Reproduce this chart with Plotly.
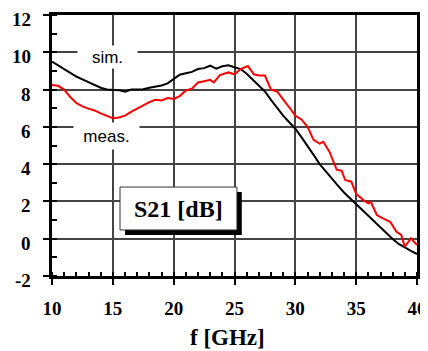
import plotly.graph_objects as go

# ---- data ----
f_sim = [10, 10.5, 11, 11.5, 12, 12.5, 13, 13.5, 14, 14.5, 15, 15.5, 16, 16.5, 17, 17.5,
         18, 18.5, 19, 19.5, 20, 20.5, 21, 21.5, 22, 22.5, 23, 23.5, 24, 24.5, 25, 25.5,
         26, 26.5, 27, 27.5, 28, 28.5, 29, 29.5, 30, 30.5, 31, 31.5, 32, 32.5, 33, 33.5,
         34, 34.5, 35, 35.5, 36, 36.5, 37, 37.5, 38, 38.5, 39, 39.5, 40]
s21_sim = [9.5, 9.3, 9.1, 8.9, 8.7, 8.55, 8.4, 8.25, 8.1, 8.0, 7.97, 7.97, 7.88, 8.0, 8.0, 8.02,
           8.1, 8.15, 8.22, 8.33, 8.55, 8.8, 8.88, 8.95, 9.1, 9.15, 9.28, 9.12, 9.25, 9.3, 9.2, 9.1,
           8.85, 8.55, 8.25, 7.9, 7.45, 7.0, 6.6, 6.25, 5.9, 5.45, 5.0, 4.5, 4.0, 3.6, 3.22, 2.85,
           2.48, 2.17, 1.85, 1.52, 1.2, 0.9, 0.58, 0.27, -0.02, -0.28, -0.48, -0.65, -0.82]

f_meas = [10, 10.5, 11, 11.5, 12, 12.5, 13, 13.5, 14, 14.5, 15, 15.5, 16, 16.5, 17, 17.5,
          18, 18.5, 19, 19.5, 20, 20.5, 21, 21.5, 22, 22.5, 23, 23.3, 23.8, 24.5, 25, 25.5,
          26.1, 26.6, 27, 27.5, 28, 28.5, 29, 29.5, 30, 30.5, 31, 31.5, 32, 32.3, 32.8, 33.2,
          33.4, 33.8, 34.1, 34.6, 35, 35.6, 36, 36.2, 36.7, 37.2, 37.8, 38.3, 38.7, 39, 39.5, 40]
s21_meas = [8.24, 8.2, 8.0, 7.6, 7.28, 7.1, 6.98, 6.88, 6.72, 6.6, 6.46, 6.5, 6.6, 6.8, 6.98, 7.15,
            7.33, 7.45, 7.42, 7.55, 7.5, 7.65, 7.95, 8.05, 8.38, 8.45, 8.52, 8.38, 8.78, 8.92, 8.82, 9.1,
            9.26, 8.82, 8.75, 8.75, 8.0, 7.9, 7.5, 7.05, 6.6, 6.4, 6.0, 5.3, 5.1, 5.2, 4.67, 4.0,
            3.7, 3.65, 3.15, 3.06, 2.4, 2.07, 1.9, 1.98, 1.27, 1.09, 0.91, 0.38, 0.2, -0.43, 0.02, -0.34]

x_tick_vals = [10, 15, 20, 25, 30, 35, 40]
x_tick_labels = ["10", "15", "20", "25", "30", "35", "40"]
y_tick_vals = [-2, 0, 2, 4, 6, 8, 10, 12]
y_tick_labels = ["-2", "0", "2", "4", "6", "8", "10", "12"]

series_names = ["sim.", "meas."]
x_title = "f [GHz]"
box_label = "S21 [dB]"

serif = "Liberation Serif"
sans = "Liberation Sans"
tick_font = dict(family=serif, size=19, color="black", weight="bold")

fig = go.Figure()
fig.add_trace(go.Scatter(x=f_sim, y=s21_sim, mode="lines", name=series_names[0],
                         line=dict(color="black", width=2)))
fig.add_trace(go.Scatter(x=f_meas, y=s21_meas, mode="lines", name=series_names[1],
                         line=dict(color="#ff0000", width=2)))

axis_common = dict(
    showline=True, linecolor="black", linewidth=2.5, mirror=True,
    showgrid=True, gridcolor="#444", gridwidth=1.5,
    zeroline=False, automargin=False, ticklabeloverflow="allow",
    ticks="outside", ticklen=6, tickwidth=2, tickcolor="black",
    tickfont=tick_font,
)

fig.update_xaxes(range=[10, 40], tickmode="array", tickvals=x_tick_vals, ticktext=x_tick_labels,
                 minor=dict(ticks="inside", dtick=1, ticklen=4, tickwidth=2, tickcolor="black",
                            showgrid=False),
                 ticklabelstandoff=7, **axis_common)
# y tick labels are drawn as annotations (they sit a little below their ticks in the original)
fig.update_yaxes(range=[-2, 12], tickmode="array", tickvals=y_tick_vals, ticktext=y_tick_labels,
                 showticklabels=False,
                 minor=dict(ticks="inside", dtick=1, ticklen=5, tickwidth=2, tickcolor="black",
                            showgrid=False),
                 **axis_common)

# label box with drop shadow
fig.add_shape(type="rect", xref="x", yref="y", x0=16.0, x1=25.6, y0=0.2, y1=2.5,
              fillcolor="black", line=dict(width=0), layer="above")
fig.add_shape(type="rect", xref="x", yref="y", x0=15.59, x1=25.2, y0=0.47, y1=2.77,
              fillcolor="white", line=dict(color="#333", width=1), layer="above")

annotations = [
    dict(x=0, y=v, xref="paper", yref="y", text=t, showarrow=False,
         xanchor="right", yanchor="middle", xshift=-19, yshift=-4.5, font=tick_font)
    for v, t in zip(y_tick_vals, y_tick_labels)
]
annotations += [
    dict(x=14.56, y=9.73, xref="x", yref="y", text=series_names[0], showarrow=False,
         font=dict(family=sans, size=17, color="black"), bgcolor="white", width=57, height=20),
    dict(x=14.45, y=5.5, xref="x", yref="y", text=series_names[1], showarrow=False,
         font=dict(family=sans, size=17, color="black"), bgcolor="white", width=63, height=24),
    dict(x=20.4, y=1.6, xref="x", yref="y", text=box_label, showarrow=False,
         font=dict(family=serif, size=24, color="black", weight="bold")),
    dict(x=0.481, y=-0.234, xref="paper", yref="paper", text=x_title, showarrow=False,
         yanchor="middle", font=dict(family=serif, size=23, color="black", weight="bold")),
]
fig.update_layout(annotations=annotations)

# page body has an 8px default margin, so the figure is offset by 8px
fig.update_layout(
    width=420, height=343,
    margin=dict(l=44, r=11, t=7, b=75),
    paper_bgcolor="white", plot_bgcolor="white",
    showlegend=False,
)

fig.write_html("out.html")
